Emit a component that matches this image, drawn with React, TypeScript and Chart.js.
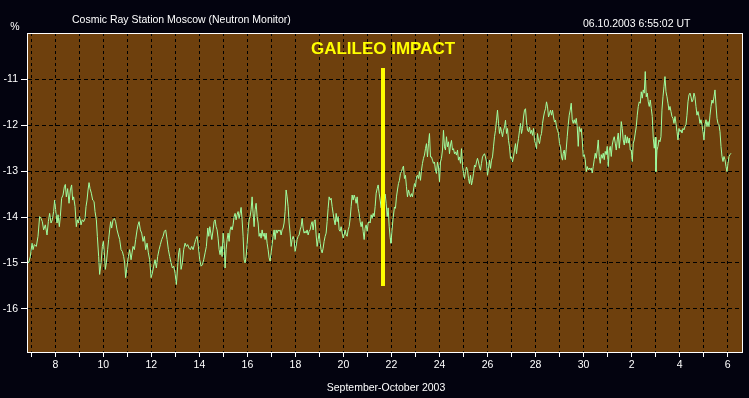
import React, { useEffect, useRef } from "react";
import { Chart, registerables } from "chart.js";

Chart.register(...registerables);

// ---- texts ----
const TITLE = "Cosmic Ray Station Moscow (Neutron Monitor)";
const TIMESTAMP = "06.10.2003 6:55:02 UT";
const X_TITLE = "September-October 2003";
const Y_UNIT = "%";
const EVENT_LABEL = "GALILEO IMPACT";

// ---- axes ----
const START_DAY = 7; // hour 0 = 7 September 2003, 00:00 UT (days continue past 30 into October)
const X_MIN_DAY = 6.82;
const X_MAX_DAY = 36.6;
const Y_MIN = -16.94;
const Y_MAX = -9.99;
const dayTicks = [7, 8, 9, 10, 11, 12, 13, 14, 15, 16, 17, 18, 19, 20, 21, 22, 23, 24, 25, 26, 27, 28, 29, 30, 31, 32, 33, 34, 35, 36];
const dayTickLabels = ["", "8", "", "10", "", "12", "", "14", "", "16", "", "18", "", "20", "", "22", "", "24", "", "26", "", "28", "", "30", "", "2", "", "4", "", "6"];
const yTicks = [-16, -15, -14, -13, -12, -11];

// ---- Galileo impact marker ----
const IMPACT_DAY = 21.65;
const IMPACT_TOP = -10.75;
const IMPACT_BOTTOM = -15.5;
const IMPACT_LABEL_VALUE = -10.35;

// ---- readings: [hours since 7 Sep 00:00 UT, % change] ----
const sept7to14: [number, number][] = [
  [-4.3, -14.93], [-2.7, -15.0], [-1.0, -14.86], [0.7, -14.57], [1.7, -14.71], [3.0, -14.6], [5.0, -14.64], [6.7, -14.42], [8.3, -13.99], [9.7, -14.03],
  [11.0, -14.1], [12.3, -14.28], [14.0, -14.17], [15.7, -14.39], [17.0, -14.1], [18.3, -13.92], [19.7, -14.13], [21.0, -14.06], [22.3, -13.88], [23.3, -13.63],
  [24.3, -13.84], [25.7, -14.13], [26.7, -13.95], [28.0, -14.21], [29.0, -13.99], [30.3, -13.59], [31.7, -13.52], [33.0, -13.34], [34.0, -13.29], [35.0, -13.56],
  [36.3, -13.38], [37.7, -13.7], [39.0, -13.41], [40.3, -13.3], [41.3, -13.63], [42.3, -13.56], [43.7, -13.77], [45.0, -14.21], [46.0, -14.06], [47.0, -14.13],
  [48.3, -13.99], [49.7, -14.17], [51.0, -14.06], [52.3, -14.1], [53.7, -14.03], [54.7, -13.77], [55.7, -13.63], [56.7, -13.41], [57.7, -13.25], [58.7, -13.38],
  [60.0, -13.48], [61.3, -13.63], [62.7, -13.66], [63.7, -13.88], [65.0, -14.06], [66.0, -14.42], [67.3, -14.86], [68.3, -15.25], [69.7, -15.0], [71.0, -14.64],
  [72.0, -14.53], [73.0, -14.78], [74.0, -15.14], [75.0, -15.0], [76.3, -14.71], [77.3, -14.49], [78.3, -14.28], [79.3, -14.1], [80.3, -14.24], [81.7, -14.06],
  [83.0, -14.03], [84.3, -14.1], [85.7, -14.28], [87.0, -14.39], [88.3, -14.49], [89.7, -14.71], [91.0, -14.75], [92.3, -14.86], [93.3, -15.0], [94.3, -15.32],
  [95.7, -15.07], [97.0, -14.86], [98.3, -14.71], [99.7, -14.93], [100.7, -14.78], [101.7, -14.64], [103.0, -14.71], [104.3, -14.49], [105.7, -14.28], [106.7, -14.17],
  [107.7, -14.1], [109.0, -14.28], [110.3, -14.35], [111.7, -14.53], [113.0, -14.42], [114.3, -14.71], [115.7, -14.57], [117.0, -14.78], [118.3, -14.93], [119.7, -15.32],
  [121.0, -15.22], [122.3, -15.07], [123.7, -14.93], [125.0, -15.11], [126.3, -14.86], [127.7, -14.71], [129.0, -14.6], [130.3, -14.49], [131.7, -14.42], [133.0, -14.31],
  [134.3, -14.28], [135.7, -14.49], [137.0, -14.71], [138.3, -14.86], [139.7, -15.0], [141.0, -15.11], [142.3, -15.07], [143.7, -15.22], [145.0, -15.47], [146.3, -15.07],
  [147.3, -14.78], [148.3, -14.68], [149.7, -15.14], [151.0, -15.0], [152.3, -14.71], [153.7, -14.57], [155.0, -14.64], [156.3, -14.6], [157.7, -14.68], [159.0, -14.71],
  [160.3, -14.64], [161.7, -14.71], [163.0, -14.6], [164.3, -14.49], [165.7, -14.42], [167.0, -14.64], [168.3, -14.93], [169.7, -15.07], [171.0, -15.04], [172.3, -14.93],
  [173.7, -14.78], [175.0, -14.64],
];

const sept14to21: [number, number][] = [
  [176.4, -14.24], [177.4, -14.42], [178.4, -14.21], [179.4, -14.35], [180.4, -14.49], [181.7, -14.28], [182.7, -14.1], [183.7, -14.06], [184.7, -14.21], [185.7, -14.28],
  [186.7, -14.46], [187.7, -14.71], [188.7, -14.82], [189.7, -14.64], [190.7, -14.86], [191.7, -14.35], [192.7, -14.57], [193.7, -15.11], [194.7, -14.71], [195.7, -14.49],
  [196.7, -14.35], [197.7, -14.53], [198.7, -14.28], [199.7, -14.21], [200.7, -14.28], [201.7, -14.17], [202.7, -13.99], [203.7, -13.92], [204.7, -14.06], [205.7, -13.95],
  [206.7, -13.88], [207.7, -14.03], [208.7, -13.92], [209.7, -13.79], [210.7, -14.06], [211.7, -14.42], [212.7, -14.93], [213.7, -15.0], [214.7, -14.86], [215.7, -14.6],
  [216.7, -14.28], [217.7, -14.06], [218.7, -13.99], [219.7, -13.84], [220.7, -13.56], [221.7, -13.92], [222.7, -14.21], [223.7, -13.84], [224.7, -13.7], [225.7, -13.99],
  [226.7, -14.13], [227.7, -14.42], [228.7, -14.35], [229.7, -14.46], [230.7, -14.28], [231.7, -14.42], [232.7, -14.35], [233.7, -14.49], [234.7, -14.35], [235.7, -14.57],
  [236.7, -14.71], [237.7, -14.89], [238.7, -14.96], [239.7, -14.78], [240.7, -14.6], [241.7, -14.42], [242.7, -14.28], [243.7, -14.49], [244.7, -14.28], [245.7, -14.35],
  [246.7, -14.28], [247.7, -14.31], [248.7, -14.28], [249.7, -14.39], [250.7, -14.28], [251.7, -14.24], [252.7, -14.13], [253.7, -13.88], [254.7, -13.41], [255.7, -13.56],
  [256.7, -13.77], [257.7, -14.13], [258.7, -14.35], [259.7, -14.64], [260.7, -14.49], [261.7, -14.42], [262.7, -14.49], [263.7, -14.75], [264.7, -14.64], [265.7, -14.49],
  [266.7, -14.42], [267.7, -14.39], [268.7, -14.28], [269.7, -14.21], [270.7, -14.03], [271.7, -14.24], [272.7, -14.35], [273.7, -14.31], [274.7, -14.35], [275.7, -14.28],
  [276.7, -14.39], [277.7, -14.31], [278.7, -14.28], [279.7, -14.17], [280.7, -14.1], [281.7, -14.28], [282.7, -14.1], [283.7, -14.06], [284.7, -14.39], [285.7, -14.64],
  [286.7, -14.49], [287.7, -14.35], [288.7, -14.57], [289.7, -14.71], [290.7, -14.78], [291.7, -14.68], [292.7, -14.53], [293.7, -14.42], [294.7, -14.35], [295.7, -14.1],
  [296.7, -13.81], [297.7, -13.56], [298.7, -13.63], [299.7, -13.59], [300.7, -13.77], [301.7, -13.92], [302.7, -14.06], [303.7, -14.17], [304.7, -13.92], [305.7, -14.1],
  [306.7, -13.99], [307.7, -14.28], [308.7, -14.31], [309.7, -14.21], [310.7, -14.35], [311.7, -14.46], [312.7, -14.39], [313.7, -14.28], [314.7, -14.39], [315.7, -14.42],
  [316.7, -14.28], [317.7, -14.21], [318.7, -14.03], [319.7, -13.77], [320.7, -13.52], [321.7, -13.63], [322.7, -13.52], [323.7, -13.59], [324.7, -13.7], [325.7, -13.56],
  [326.7, -13.81], [327.7, -13.92], [328.7, -14.1], [329.7, -14.21], [330.7, -14.1], [331.7, -14.31], [332.7, -14.49], [333.7, -14.24], [334.7, -14.17], [335.7, -14.31],
  [336.7, -14.13], [337.7, -14.1], [338.7, -14.13], [339.7, -13.95], [340.7, -14.03], [341.7, -13.92], [342.7, -13.99], [343.7, -13.77], [344.7, -13.48], [345.7, -13.38],
  [346.7, -13.3], [347.7, -13.48], [348.7, -13.63],
];

const sept21to28: [number, number][] = [
  [349.7, -13.8], [350.7, -13.55], [351.7, -13.9], [352.7, -13.65], [353.7, -13.5], [354.7, -13.7], [355.7, -13.99], [356.7, -13.8], [357.7, -14.2], [358.7, -14.45],
  [359.5, -14.57], [360.5, -14.3], [361.5, -14.05], [363.0, -13.78], [364.0, -13.81], [365.0, -13.56], [366.0, -13.41], [367.0, -13.27], [368.0, -13.2], [369.0, -13.05],
  [370.0, -13.01], [371.0, -12.94], [372.0, -12.89], [373.0, -13.16], [374.0, -13.09], [375.0, -13.34], [376.0, -13.56], [377.0, -13.41], [378.0, -13.49], [379.0, -13.56],
  [380.0, -13.49], [381.0, -13.56], [382.0, -13.41], [383.0, -13.27], [384.0, -13.34], [385.0, -13.12], [386.0, -13.09], [387.0, -13.16], [388.0, -13.01], [389.0, -13.2],
  [390.0, -12.98], [391.0, -12.83], [392.0, -12.72], [393.0, -12.65], [394.0, -12.51], [395.0, -12.4], [396.0, -12.69], [397.0, -12.4], [398.0, -12.18], [399.0, -12.69],
  [400.0, -12.69], [401.0, -12.76], [402.0, -12.83], [403.0, -12.8], [404.0, -12.98], [405.0, -13.05], [406.0, -12.8], [407.0, -12.91], [408.0, -13.23], [409.0, -12.8],
  [410.0, -12.72], [411.0, -12.54], [412.0, -12.11], [413.0, -12.47], [414.0, -12.54], [415.0, -12.25], [416.0, -12.47], [417.0, -12.36], [418.0, -12.62], [419.0, -12.43],
  [420.0, -12.33], [421.0, -12.54], [422.0, -12.51], [423.0, -12.62], [424.0, -12.58], [425.0, -12.65], [426.0, -12.54], [427.0, -12.76], [428.0, -12.69], [429.0, -12.83],
  [430.0, -12.51], [431.0, -12.87], [432.0, -13.05], [433.0, -13.16], [434.0, -13.01], [435.0, -12.91], [436.0, -12.98], [437.0, -13.16], [438.0, -13.27], [439.0, -13.09],
  [440.0, -13.3], [441.0, -13.2], [442.0, -13.05], [443.0, -12.87], [444.0, -12.91], [445.0, -12.8], [446.0, -12.72], [447.0, -12.8], [448.0, -12.91], [449.0, -12.98],
  [450.0, -12.83], [451.0, -12.69], [452.0, -12.65], [453.0, -12.62], [454.0, -12.69], [455.0, -12.8], [456.0, -13.09], [457.0, -12.94], [458.0, -12.76], [459.0, -12.94],
  [460.0, -12.76], [461.0, -12.69], [462.0, -12.47], [463.0, -12.25], [464.0, -12.11], [465.0, -11.89], [466.0, -11.67], [467.0, -11.96], [468.0, -12.18], [469.0, -12.04],
  [470.0, -12.14], [471.0, -12.25], [472.0, -12.11], [473.0, -12.04], [474.0, -11.89], [475.0, -12.18], [476.0, -12.07], [477.0, -12.33], [478.0, -12.47], [479.0, -12.72],
  [480.0, -12.69], [481.0, -12.8], [482.0, -12.69], [483.0, -12.54], [484.0, -12.4], [485.0, -12.62], [486.0, -12.43], [487.0, -12.29], [488.0, -12.11], [489.0, -11.96],
  [490.0, -12.18], [491.0, -12.07], [492.0, -11.82], [493.0, -11.67], [494.0, -11.64], [495.0, -11.93], [496.0, -12.11], [497.0, -12.14], [498.0, -12.04], [499.0, -12.18],
  [500.0, -12.11], [501.0, -12.22], [502.0, -12.07], [503.0, -12.33], [504.0, -12.4], [505.0, -12.51], [506.0, -12.18], [507.0, -12.33], [508.0, -12.4], [509.0, -12.25],
  [510.0, -12.18], [511.0, -11.96], [512.0, -11.82], [513.0, -11.71], [514.0, -11.64], [515.0, -11.49], [516.0, -11.6], [517.0, -11.82], [518.0, -11.75], [519.0, -11.67],
  [520.0, -11.78], [521.0, -11.67], [522.0, -11.82], [523.0, -11.93], [524.0, -11.89], [525.0, -12.04], [526.0, -12.11], [527.0, -12.18], [528.0, -12.4], [529.0, -12.47],
  [530.0, -12.69], [531.0, -12.76],
];

const sept28toOct6: [number, number][] = [
  [531.7, -12.61], [532.7, -12.54], [533.7, -12.75], [534.7, -12.52], [535.7, -12.25], [536.7, -11.99], [537.7, -11.78], [538.7, -11.67], [539.7, -11.52], [540.7, -11.88],
  [541.7, -11.96], [542.7, -11.88], [543.7, -11.96], [544.7, -11.85], [545.7, -12.03], [546.7, -12.46], [547.7, -12.03], [548.7, -12.14], [549.7, -12.07], [550.7, -12.32],
  [551.7, -12.68], [552.7, -12.64], [553.7, -12.75], [554.7, -13.01], [555.7, -12.9], [556.7, -12.97], [557.7, -12.93], [558.7, -12.97], [559.7, -12.93], [560.7, -13.04],
  [561.7, -12.9], [562.7, -12.75], [563.7, -12.61], [564.7, -12.72], [565.7, -12.54], [566.7, -12.32], [567.7, -12.68], [568.7, -12.83], [569.7, -12.64], [570.7, -12.72],
  [571.7, -12.61], [572.7, -12.75], [573.7, -12.57], [574.7, -12.64], [575.7, -12.46], [576.7, -12.9], [577.7, -12.54], [578.7, -12.46], [579.7, -12.68], [580.7, -12.43],
  [581.7, -12.32], [582.7, -12.25], [583.7, -12.39], [584.7, -12.54], [585.7, -12.32], [586.7, -12.17], [587.7, -12.5], [588.7, -12.28], [589.7, -11.92], [590.7, -12.07],
  [591.7, -12.32], [592.7, -12.43], [593.7, -12.21], [594.7, -12.39], [595.7, -12.25], [596.7, -12.39], [597.7, -12.28], [598.7, -12.54], [599.7, -12.54], [600.7, -12.79],
  [601.7, -12.39], [602.7, -12.32], [603.7, -12.17], [604.7, -12.03], [605.7, -11.78], [606.7, -11.59], [607.7, -11.49], [608.7, -11.52], [609.7, -11.27], [610.7, -11.41],
  [611.7, -11.23], [612.7, -11.3], [613.7, -10.83], [614.7, -11.38], [615.7, -11.3], [616.7, -11.49], [617.7, -11.59], [618.7, -11.45], [619.7, -11.63], [620.7, -11.81],
  [621.7, -12.28], [622.7, -12.5], [623.7, -12.26], [624.4, -13.01], [625.4, -12.54], [626.4, -12.46], [627.4, -12.32], [628.4, -12.36], [629.4, -12.25], [630.4, -11.67],
  [631.4, -11.38], [632.4, -11.16], [633.4, -10.94], [634.4, -11.27], [635.4, -11.38], [636.4, -11.52], [637.4, -11.67], [638.4, -11.59], [639.4, -11.7], [640.4, -11.81],
  [641.4, -11.85], [642.4, -11.96], [643.4, -11.81], [644.4, -11.96], [645.4, -12.14], [646.4, -12.32], [647.4, -12.07], [648.4, -12.14], [649.4, -12.1], [650.4, -12.17],
  [651.4, -12.07], [652.4, -12.1], [653.4, -12.03], [654.4, -11.99], [655.4, -11.78], [656.4, -11.49], [657.4, -11.34], [658.4, -11.3], [659.4, -11.38], [660.4, -11.49],
  [661.4, -11.45], [662.4, -11.3], [663.4, -11.38], [664.4, -11.59], [665.4, -11.78], [666.4, -11.7], [667.4, -11.81], [668.4, -11.96], [669.4, -11.88], [670.4, -11.99],
  [671.4, -12.14], [672.4, -12.32], [673.4, -11.99], [674.4, -11.88], [675.4, -12.03], [676.4, -11.92], [677.4, -12.03], [678.4, -11.78], [679.4, -11.59], [680.4, -11.45],
  [681.4, -11.52], [682.4, -11.38], [683.4, -11.23], [684.4, -11.56], [685.4, -11.85], [686.4, -11.96], [687.4, -11.99], [688.4, -12.14], [689.4, -12.46], [690.4, -12.68],
  [691.4, -12.79], [692.4, -12.68], [693.4, -12.75], [694.4, -12.9], [695.4, -13.01], [696.4, -12.83], [697.4, -12.68], [698.4, -12.64], [699.4, -12.61],
];

// ---- styles ----
const PAGE_BG = "#03030f";
const PLOT_BG = "#6e400d";
const LINE_COLOR = "#a0ffa0";
const IMPACT_COLOR = "#ffff00";
const FONT = '"Liberation Sans", Arial, sans-serif';

export default function App() {
  const canvasRef = useRef<HTMLCanvasElement | null>(null);

  useEffect(() => {
    document.body.style.margin = "0";
    document.body.style.background = PAGE_BG;
    const canvas = canvasRef.current;
    if (!canvas) return;

    const points = [...sept7to14, ...sept14to21, ...sept21to28, ...sept28toOct6].map(([h, v]) => ({
      x: START_DAY + h / 24,
      y: v,
    }));

    const decor = {
      id: "decor",
      beforeDraw(chart: any) {
        const { ctx, chartArea: a, width, height } = chart;
        ctx.save();
        ctx.fillStyle = PAGE_BG;
        ctx.fillRect(0, 0, width, height);
        ctx.fillStyle = PLOT_BG;
        ctx.fillRect(a.left, a.top, a.right - a.left, a.bottom - a.top);
        ctx.restore();
      },
      afterDatasetsDraw(chart: any) {
        const { ctx, chartArea: a } = chart;
        const xs = chart.scales.x;
        const ys = chart.scales.y;
        ctx.save();
        // impact bar
        const ix = Math.round(xs.getPixelForValue(IMPACT_DAY));
        const iy1 = Math.round(ys.getPixelForValue(IMPACT_TOP));
        const iy2 = Math.round(ys.getPixelForValue(IMPACT_BOTTOM));
        ctx.fillStyle = IMPACT_COLOR;
        ctx.fillRect(ix - 2, iy1, 4, iy2 - iy1);
        ctx.font = `bold 17px ${FONT}`;
        ctx.textAlign = "center";
        ctx.textBaseline = "middle";
        ctx.fillText(EVENT_LABEL, ix, ys.getPixelForValue(IMPACT_LABEL_VALUE));
        // frame
        ctx.strokeStyle = "#ffffff";
        ctx.lineWidth = 1;
        ctx.strokeRect(a.left + 0.5, a.top + 0.5, a.right - a.left, a.bottom - a.top);
        ctx.restore();
      },
      afterDraw(chart: any) {
        const { ctx } = chart;
        ctx.save();
        ctx.fillStyle = "#ffffff";
        ctx.font = `10.5px ${FONT}`;
        ctx.textBaseline = "middle";
        ctx.textAlign = "left";
        ctx.fillText(TITLE, 72, 20);
        ctx.fillText(TIMESTAMP, 583, 24);
        ctx.textAlign = "center";
        ctx.fillText(Y_UNIT, 15, 27);
        ctx.fillText(X_TITLE, 386, 388);
        ctx.restore();
      },
    };

    const chart = new Chart(canvas, {
      type: "line",
      data: {
        datasets: [
          {
            data: points,
            borderColor: LINE_COLOR,
            borderWidth: 1,
            pointRadius: 0,
            fill: false,
            tension: 0,
          },
        ],
      },
      options: {
        animation: false,
        responsive: false,
        maintainAspectRatio: false,
        devicePixelRatio: 1,
        parsing: false,
        events: [],
        layout: { padding: { top: 33, right: 7, left: 0, bottom: 0 } },
        plugins: { legend: { display: false }, tooltip: { enabled: false }, title: { display: false } },
        scales: {
          x: {
            type: "linear",
            min: X_MIN_DAY,
            max: X_MAX_DAY,
            afterBuildTicks: (s: any) => {
              s.ticks = dayTicks.map((v) => ({ value: v }));
            },
            afterFit: (s: any) => {
              s.height = 46;
            },
            ticks: {
              autoSkip: false,
              maxRotation: 0,
              minRotation: 0,
              color: "#ffffff",
              padding: 2,
              font: { family: FONT, size: 10.5 },
              callback: (v: any) => {
                const i = dayTicks.indexOf(Number(v));
                return i >= 0 ? dayTickLabels[i] : "";
              },
            },
            grid: {
              color: "#000000",
              lineWidth: 1,
              drawTicks: true,
              tickLength: 5,
              tickColor: "#ffffff",
              tickWidth: 1,
              tickBorderDash: [],
            } as any,
            border: { display: true, color: "#ffffff", width: 1, dash: [3, 3] },
          },
          y: {
            type: "linear",
            min: Y_MIN,
            max: Y_MAX,
            afterBuildTicks: (s: any) => {
              s.ticks = yTicks.map((v) => ({ value: v }));
            },
            afterFit: (s: any) => {
              s.width = 27;
            },
            ticks: {
              color: "#ffffff",
              padding: 3,
              font: { family: FONT, size: 10.5 },
              callback: (v: any) => String(v),
            },
            grid: {
              color: "#000000",
              lineWidth: 1,
              drawTicks: true,
              tickLength: 6,
              tickColor: "#ffffff",
              tickWidth: 1,
              tickBorderDash: [],
            } as any,
            border: { display: true, color: "#ffffff", width: 1, dash: [4, 3] },
          },
        },
      },
      plugins: [decor],
    } as any);

    return () => chart.destroy();
  }, []);

  return (
    <div style={{ position: "absolute", left: 0, top: 0, width: 749, height: 398, background: PAGE_BG }}>
      <canvas ref={canvasRef} width={749} height={398} style={{ display: "block" }} />
    </div>
  );
}
